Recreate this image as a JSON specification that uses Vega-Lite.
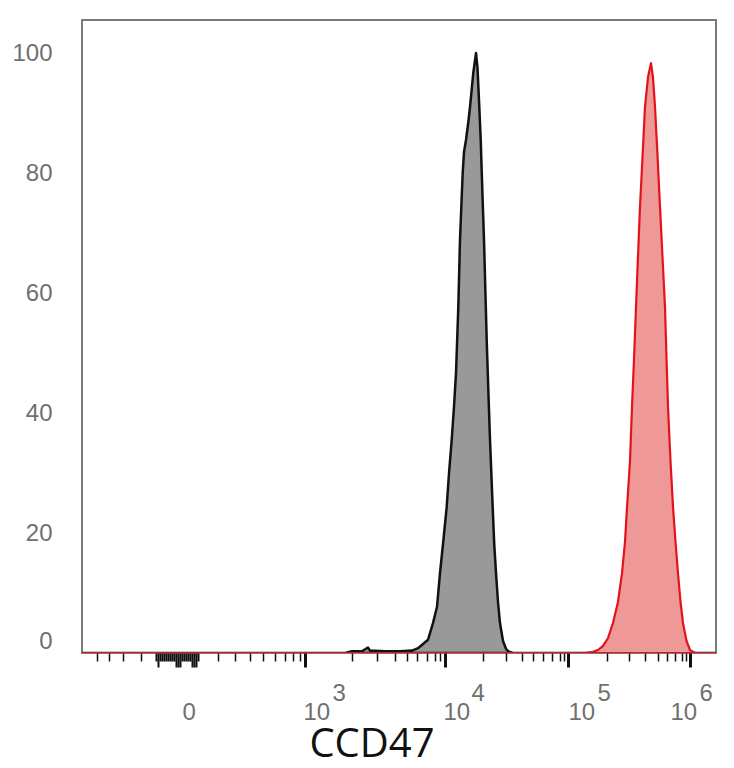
{
  "$schema": "https://vega.github.io/schema/vega-lite/v6.json",
  "width": 634,
  "height": 633,
  "autosize": {"type": "none"},
  "padding": {"left": 82, "top": 20, "right": 18, "bottom": 115},
  "background": "white",
  "config": {"view": {"stroke": "#7a7a7a", "strokeWidth": 2}},
  "data": {"values": [
    {"sample": "control", "channel": 0, "count": 0},
    {"sample": "control", "channel": 424.8, "count": 0},
    {"sample": "control", "channel": 436.1, "count": 0.3},
    {"sample": "control", "channel": 452.2, "count": 0.3},
    {"sample": "control", "channel": 458.7, "count": 0.7},
    {"sample": "control", "channel": 461.9, "count": 0.9},
    {"sample": "control", "channel": 465.2, "count": 0.4},
    {"sample": "control", "channel": 489.4, "count": 0.3},
    {"sample": "control", "channel": 513.6, "count": 0.3},
    {"sample": "control", "channel": 533.0, "count": 0.4},
    {"sample": "control", "channel": 542.7, "count": 0.8},
    {"sample": "control", "channel": 550.8, "count": 1.5},
    {"sample": "control", "channel": 558.8, "count": 2.2},
    {"sample": "control", "channel": 566.9, "count": 5},
    {"sample": "control", "channel": 573.4, "count": 7.7},
    {"sample": "control", "channel": 578.2, "count": 13.3},
    {"sample": "control", "channel": 583.9, "count": 19},
    {"sample": "control", "channel": 589.0, "count": 24.3},
    {"sample": "control", "channel": 592.8, "count": 30},
    {"sample": "control", "channel": 597.1, "count": 35.5},
    {"sample": "control", "channel": 600.8, "count": 41},
    {"sample": "control", "channel": 604.1, "count": 46.7},
    {"sample": "control", "channel": 607.8, "count": 57.7},
    {"sample": "control", "channel": 610.5, "count": 68.8},
    {"sample": "control", "channel": 612.9, "count": 75},
    {"sample": "control", "channel": 614.9, "count": 80},
    {"sample": "control", "channel": 617.0, "count": 83.5},
    {"sample": "control", "channel": 620.2, "count": 85.5},
    {"sample": "control", "channel": 623.4, "count": 88},
    {"sample": "control", "channel": 626.7, "count": 91},
    {"sample": "control", "channel": 632.0, "count": 96.7},
    {"sample": "control", "channel": 636.4, "count": 100},
    {"sample": "control", "channel": 638.8, "count": 97.5},
    {"sample": "control", "channel": 641.7, "count": 91},
    {"sample": "control", "channel": 644.0, "count": 85.5},
    {"sample": "control", "channel": 646.6, "count": 77},
    {"sample": "control", "channel": 649.3, "count": 68.8},
    {"sample": "control", "channel": 651.6, "count": 60},
    {"sample": "control", "channel": 653.7, "count": 52},
    {"sample": "control", "channel": 656.2, "count": 44},
    {"sample": "control", "channel": 659.0, "count": 35.5},
    {"sample": "control", "channel": 663.3, "count": 24.3},
    {"sample": "control", "channel": 665.9, "count": 18},
    {"sample": "control", "channel": 668.7, "count": 13.3},
    {"sample": "control", "channel": 671.9, "count": 8.5},
    {"sample": "control", "channel": 675.1, "count": 5},
    {"sample": "control", "channel": 680.0, "count": 2},
    {"sample": "control", "channel": 684.8, "count": 0.7},
    {"sample": "control", "channel": 689.7, "count": 0.2},
    {"sample": "control", "channel": 696.1, "count": 0},
    {"sample": "control", "channel": 1024, "count": 0},
    {"sample": "CD47", "channel": 0, "count": 0},
    {"sample": "CD47", "channel": 812.4, "count": 0},
    {"sample": "CD47", "channel": 825.3, "count": 0.2},
    {"sample": "CD47", "channel": 833.4, "count": 0.5},
    {"sample": "CD47", "channel": 841.5, "count": 1.2},
    {"sample": "CD47", "channel": 849.6, "count": 2.5},
    {"sample": "CD47", "channel": 857.6, "count": 5},
    {"sample": "CD47", "channel": 865.7, "count": 8.5},
    {"sample": "CD47", "channel": 872.2, "count": 13.3},
    {"sample": "CD47", "channel": 877.0, "count": 18.5},
    {"sample": "CD47", "channel": 880.3, "count": 24.3},
    {"sample": "CD47", "channel": 885.1, "count": 32},
    {"sample": "CD47", "channel": 888.3, "count": 41},
    {"sample": "CD47", "channel": 891.6, "count": 49},
    {"sample": "CD47", "channel": 894.8, "count": 57.7},
    {"sample": "CD47", "channel": 898.0, "count": 66},
    {"sample": "CD47", "channel": 901.2, "count": 74.3},
    {"sample": "CD47", "channel": 904.5, "count": 81},
    {"sample": "CD47", "channel": 909.3, "count": 91},
    {"sample": "CD47", "channel": 914.2, "count": 96},
    {"sample": "CD47", "channel": 919.0, "count": 98.3},
    {"sample": "CD47", "channel": 922.2, "count": 96},
    {"sample": "CD47", "channel": 925.5, "count": 91},
    {"sample": "CD47", "channel": 929.5, "count": 83},
    {"sample": "CD47", "channel": 933.6, "count": 74.3},
    {"sample": "CD47", "channel": 937.6, "count": 66},
    {"sample": "CD47", "channel": 941.6, "count": 57.7},
    {"sample": "CD47", "channel": 944.1, "count": 49},
    {"sample": "CD47", "channel": 946.5, "count": 41},
    {"sample": "CD47", "channel": 950.5, "count": 32},
    {"sample": "CD47", "channel": 954.6, "count": 24.3},
    {"sample": "CD47", "channel": 958.6, "count": 18.5},
    {"sample": "CD47", "channel": 962.6, "count": 13.3},
    {"sample": "CD47", "channel": 966.7, "count": 8.5},
    {"sample": "CD47", "channel": 970.7, "count": 5},
    {"sample": "CD47", "channel": 976.4, "count": 2},
    {"sample": "CD47", "channel": 982.0, "count": 0.5},
    {"sample": "CD47", "channel": 990.1, "count": 0},
    {"sample": "CD47", "channel": 1024, "count": 0}
  ]},
  "encoding": {
    "y": {
      "field": "count",
      "type": "quantitative",
      "scale": {"domain": [0, 105.5], "nice": false, "zero": true},
      "axis": {
        "title": null,
        "values": [0, 20, 40, 60, 80, 100],
        "domain": false,
        "ticks": false,
        "tickSize": 0,
        "grid": false,
        "labelFont": "Liberation Sans",
        "labelFontSize": 24,
        "labelColor": "#707070",
        "labelPadding": 30,
        "labelBaseline": {"condition": {"test": "datum.value === 0", "value": "bottom"}, "value": "middle"},
        "labelFlush": false
      }
    }
  },
  "resolve": {"axis": {"x": "independent"}},
  "layer": [
    {
      "transform": [{"filter": "datum.sample === 'control'"}],
      "mark": {"type": "area", "fill": "#999999", "fillOpacity": 1, "stroke": "#111111", "strokeWidth": 2.5, "strokeJoin": "round", "clip": true},
      "encoding": {
        "x": {
          "field": "channel",
          "type": "quantitative",
          "scale": {"domain": [0, 1024], "nice": false, "zero": false},
          "axis": {
            "orient": "bottom",
            "title": "CCD47",
            "titleFont": "Open Sans",
            "titleFontSize": 40,
            "titleFontWeight": "normal",
            "titleColor": "#111111",
            "titleX": 289.5,
            "titleY": 103,
            "titleAlign": "center",
            "titleBaseline": "alphabetic",
            "values": [24.2, 43.6, 66.2, 95.3, 119.5, 122.8, 126.0, 129.2, 132.4, 135.7, 138.9, 142.1, 145.4, 148.6, 151.8, 155.1, 158.3, 161.5, 164.7, 168.0, 171.2, 174.4, 177.7, 180.9, 184.1, 187.4, 219.7, 247.1, 271.3, 292.3, 311.7, 327.9, 340.8, 352.1, 360.2, 436.1, 476.5, 505.5, 524.9, 541.1, 557.2, 570.1, 578.2, 586.3, 647.7, 684.8, 710.7, 728.4, 744.6, 759.1, 772.0, 778.5, 785.0, 848.0, 883.5, 909.3, 930.3, 944.9, 957.8, 969.1, 975.6, 982.0],
            "domain": false,
            "grid": false,
            "ticks": true,
            "tickColor": "#111111",
            "tickSize": {"condition": {"test": "indexof([122.8, 151.8, 155.1, 158.3, 177.7, 180.9, 184.1, 360.2, 586.3, 785, 982], datum.value) >= 0", "value": 14}, "value": 8},
            "tickWidth": {"condition": [
              {"test": "indexof([360.2, 586.3, 785, 982], datum.value) >= 0", "value": 3},
              {"test": "datum.value > 118 && datum.value < 190", "value": 2}
            ], "value": 1.5},
            "labelExpr": "datum.value === 155.1 ? '0' : indexof([360.2, 586.3, 785, 982], datum.value) >= 0 ? '10' : ''",
            "labelFont": "Liberation Sans",
            "labelFontSize": 24,
            "labelColor": "#707070",
            "labelAlign": "left",
            "labelOffset": {"condition": [
              {"test": "datum.value === 155.1", "value": 4},
              {"test": "datum.value === 982", "value": -20},
              {"test": "datum.value === 785", "value": 0}
            ], "value": -2},
            "labelPadding": 33,
            "labelBaseline": "top",
            "labelOverlap": false,
            "labelFlush": false,
            "labelBound": false
          }
        }
      }
    },
    {
      "transform": [{"filter": "datum.sample === 'CD47'"}],
      "mark": {"type": "area", "fill": "#ee9898", "fillOpacity": 1, "stroke": "#e3121b", "strokeWidth": 2.2, "strokeJoin": "round", "clip": true},
      "encoding": {
        "x": {
          "field": "channel",
          "type": "quantitative",
          "axis": {
            "orient": "bottom",
            "title": null,
            "values": [405.4, 629.9, 833.4, 998.2],
            "domain": false,
            "grid": false,
            "ticks": false,
            "tickSize": 0,
            "labelExpr": "datum.value === 405.4 ? '3' : datum.value === 629.9 ? '4' : datum.value === 833.4 ? '5' : '6'",
            "labelFont": "Liberation Sans",
            "labelFontSize": 24,
            "labelColor": "#707070",
            "labelAlign": "left",
            "labelOffset": -1,
            "labelPadding": 28,
            "labelBaseline": "top",
            "labelOverlap": false,
            "labelFlush": false,
            "labelBound": false
          }
        }
      }
    }
  ]
}
